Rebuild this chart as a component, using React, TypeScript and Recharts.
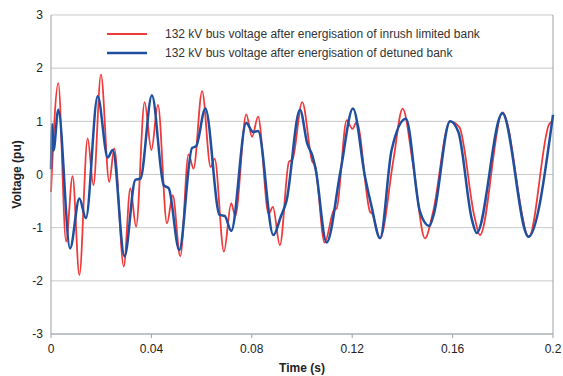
import React from "react";
import {
  LineChart,
  Line,
  XAxis,
  YAxis,
  CartesianGrid,
  ReferenceLine,
} from "recharts";

// 132 kV bus voltage (pu) versus time, sampled at the turning points of each trace.
const inrushTimeMs = [
  0, 2.9, 6.0, 8.6, 11.3, 14.6, 16.9, 19.9, 23.2, 25.2, 29.0, 31.6, 33.9, 37.3,
  40.0, 42.6, 46.2, 48.5, 51.5, 54.8, 56.8, 60.2, 63.6, 65.2, 68.9, 71.8, 73.4,
  77.8, 80.1, 82.5, 86.7, 88.4, 91.2, 94.8, 96.2, 100.1, 104.1, 105.2, 109.0,
  112.7, 113.8, 117.8, 120.1, 121.8, 127.1, 128.0, 131.1, 136.4, 140.1, 144.4,
  149.0, 152.1, 159.0, 162.7, 168.7, 170.9, 179.9, 190.4, 198.5, 200,
];
const inrushVolts = [
  -0.33, 1.72, -1.26, -0.03, -1.89, 0.68, -0.2, 1.88, -0.14, 0.49, -1.73, -0.26,
  -0.98, 1.36, 0.46, 1.31, -0.92, -0.39, -1.54, 0.38, 0.11, 1.57, 0.14, 0.3,
  -1.45, -0.54, -0.78, 1.13, 0.71, 1.09, -0.74, -0.61, -1.33, 0.24, 0.28, 1.36,
  0.24, 0.175, -1.28, -0.67, -0.64, 1.02, 0.86, 0.99, -0.7, -0.74, -1.2, 0.27,
  1.24, 0.14, -1.2, -0.73, 1.0, 0.89, -0.79, -1.14, 1.17, -1.17, 0.95, 1.0,
];

const detunedTimeMs = [
  0, 0.5, 1.0, 2.9, 7.6, 11.3, 13.9, 18.6, 22.6, 24.6, 29.3, 33.6, 35.6, 40.2,
  44.9, 46.9, 51.1, 56.2, 57.8, 61.5, 67.2, 69.2, 71.8, 77.8, 80.5, 82.5, 88.6,
  91.5, 93.8, 99.2, 102.1, 104.1, 105.5, 109.8, 115.4, 120.3, 125.1, 127.7,
  131.1, 135.7, 141.4, 147.0, 150.7, 152.5, 159.0, 162.3, 167.7, 169.6, 179.8,
  190.2, 200,
];
const detunedVolts = [
  0.1, 0.95, 0.45, 1.22, -1.39, -0.45, -0.82, 1.47, 0.32, 0.46, -1.54, -0.1,
  -0.08, 1.49, -0.2, -0.26, -1.42, 0.5, 0.53, 1.24, -0.76, -0.78, -1.06, 0.97,
  0.8, 0.82, -1.14, -0.8, -0.5, 1.22, 0.58, 0.36, 0.08, -1.28, 0.08, 1.24,
  -0.04, -0.6, -1.2, 0.46, 1.05, -0.7, -0.97, -0.75, 1.0, 0.8, -0.85, -1.1,
  1.15, -1.17, 1.12,
];

const timeTicks = [0, 0.04, 0.08, 0.12, 0.16, 0.2];
const voltTicks = [-3, -2, -1, 0, 1, 2, 3];

const inrushLabel = "132 kV bus voltage after energisation of inrush limited bank";
const detunedLabel = "132 kV bus voltage after energisation of detuned bank";

const inrushData = inrushTimeMs.map((t, i) => ({ t: t / 1000, v: inrushVolts[i] }));
const detunedData = detunedTimeMs.map((t, i) => ({ t: t / 1000, v: detunedVolts[i] }));

const FONT = "'Liberation Sans', Arial, sans-serif";
const AXIS = "#9aa3ab";
const GRID = "#c9c9c9";
const RED = "#f03a3a";
const BLUE = "#1f4f9f";

const legendItems = [
  { label: inrushLabel, color: RED, width: 1.8 },
  { label: detunedLabel, color: BLUE, width: 2.5 },
];

const formatTime = (t: number) => String(Number(t.toFixed(2)));

export default function App() {
  return (
    <div
      style={{
        position: "absolute",
        left: 0,
        top: 0,
        width: 563,
        height: 376,
        background: "#fff",
      }}
    >
      <LineChart
        width={563}
        height={376}
        margin={{ top: 15, right: 10, bottom: 0, left: 0 }}
        style={{ fontFamily: FONT }}
      >
        <CartesianGrid vertical={false} stroke={GRID} strokeWidth={1} />
        <XAxis
          type="number"
          dataKey="t"
          domain={[0, 0.2]}
          ticks={timeTicks}
          tickFormatter={formatTime}
          height={42}
          stroke={AXIS}
          tickSize={4}
          tickMargin={6}
          tick={{ fill: "#222", fontSize: 12 }}
          label={{
            value: "Time (s)",
            position: "insideBottom",
            offset: 4,
            style: { fontWeight: "bold", fontSize: 12, fill: "#222" },
          }}
        />
        <YAxis
          type="number"
          domain={[-3, 3]}
          ticks={voltTicks}
          width={51}
          stroke={AXIS}
          tickSize={0}
          tickMargin={8}
          tick={{ fill: "#222", fontSize: 12 }}
          label={{
            value: "Voltage (pu)",
            angle: -90,
            position: "insideLeft",
            offset: 17,
            style: {
              textAnchor: "middle",
              fontWeight: "bold",
              fontSize: 12,
              fill: "#222",
            },
          }}
        />
        <ReferenceLine x={0.2} stroke={AXIS} strokeWidth={1} />
        <Line
          name={inrushLabel}
          data={inrushData}
          dataKey="v"
          type="monotone"
          stroke={RED}
          strokeWidth={1.8}
          dot={false}
          isAnimationActive={false}
        />
        <Line
          name={detunedLabel}
          data={detunedData}
          dataKey="v"
          type="monotone"
          stroke={BLUE}
          strokeWidth={2.5}
          dot={false}
          isAnimationActive={false}
        />
      </LineChart>
      <div
        style={{
          position: "absolute",
          left: 107,
          top: 24,
          fontFamily: FONT,
          fontSize: 12,
          color: "#333",
        }}
      >
        {legendItems.map((it) => (
          <div
            key={it.label}
            style={{ display: "flex", alignItems: "center", height: 19 }}
          >
            <svg width={40} height={4} style={{ marginRight: 18 }}>
              <line
                x1={0}
                y1={2}
                x2={40}
                y2={2}
                stroke={it.color}
                strokeWidth={it.width}
              />
            </svg>
            <span>{it.label}</span>
          </div>
        ))}
      </div>
    </div>
  );
}
